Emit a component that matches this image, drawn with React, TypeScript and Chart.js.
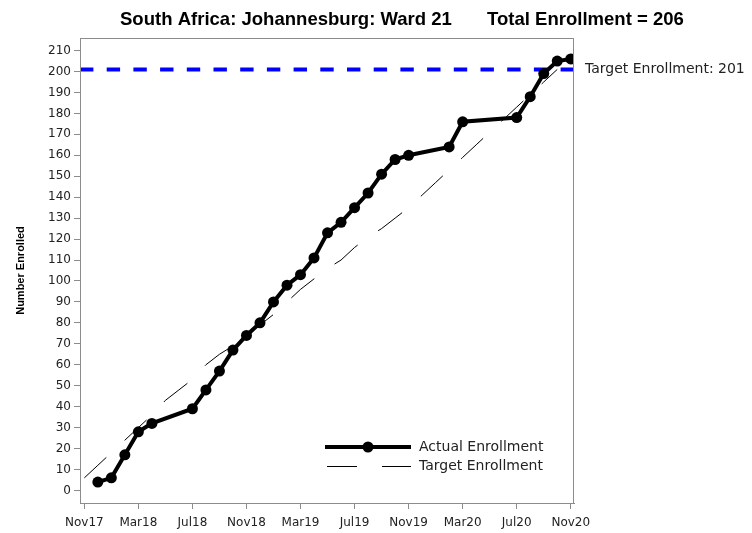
import React, { useEffect, useRef } from "react";
import { Chart, registerables } from "chart.js";

Chart.register(...registerables);

// Months counted from Nov 2017 (0 = Nov17)
const actualMonths = [1, 2, 3, 4, 5, 8, 9, 10, 11, 12, 13, 14, 15, 16, 17, 18, 19, 20, 21, 22, 23, 24, 27, 28, 32, 33, 34, 35, 36];
const actualValues = [4, 6, 17, 28, 32, 39, 48, 57, 67, 74, 80, 90, 98, 103, 111, 123, 128, 135, 142, 151, 158, 160, 164, 176, 178, 188, 199, 205, 206];

const targetMonths = [0, 1, 2, 3, 4, 5, 6, 7, 8, 9, 10, 11, 12, 13, 14, 15, 16, 17, 18, 19, 20, 21, 22, 23, 24, 25, 26, 27, 28, 29, 30, 31, 32, 33, 34, 35];
const targetValues = [6, 12, 18, 24, 30, 36, 43, 48, 53, 60, 65, 69, 74, 79, 84, 90, 96, 101, 106, 110, 116, 121, 125, 130, 135, 141, 147, 153, 159, 165, 171, 177, 183, 189, 195, 201];

const xTickMonths = [0, 4, 8, 12, 16, 20, 24, 28, 32, 36];
const xTickLabels = ["Nov17", "Mar18", "Jul18", "Nov18", "Mar19", "Jul19", "Nov19", "Mar20", "Jul20", "Nov20"];
const yTickValues = [0, 10, 20, 30, 40, 50, 60, 70, 80, 90, 100, 110, 120, 130, 140, 150, 160, 170, 180, 190, 200, 210];

const targetEnrollment = 201;
const totalEnrollment = 206;
const titleLeft = "South Africa: Johannesburg: Ward 21";
const titleRight = `Total Enrollment = ${totalEnrollment}`;

const TICK_FONT = "DejaVu Sans";
const AXIS_GRAY = "#8c8c8c";

const overlayPlugin = {
  id: "overlay",
  beforeDatasetsDraw(chart: any) {
    const { ctx, chartArea } = chart;
    const y = chart.scales.y.getPixelForValue(targetEnrollment);
    ctx.save();
    ctx.strokeStyle = "#0000ff";
    ctx.lineWidth = 4;
    ctx.setLineDash([13.4, 13.3]);
    ctx.beginPath();
    ctx.moveTo(chartArea.left, y);
    ctx.lineTo(chartArea.right, y);
    ctx.stroke();
    ctx.restore();
  },
  afterDraw(chart: any) {
    const { ctx, chartArea } = chart;
    ctx.save();
    // frame
    ctx.strokeStyle = AXIS_GRAY;
    ctx.lineWidth = 1;
    ctx.strokeRect(chartArea.left + 0.5, chartArea.top + 0.5, chartArea.right - chartArea.left - 1, chartArea.bottom - chartArea.top);

    // title, sized so its first part spans the same width as the reference
    ctx.fillStyle = "#000";
    ctx.font = "bold 15px 'Liberation Sans'";
    const w15 = ctx.measureText(titleLeft).width;
    const size = (15 * 332) / w15;
    ctx.font = `bold ${size.toFixed(2)}px 'Liberation Sans'`;
    ctx.textBaseline = "middle";
    ctx.textAlign = "left";
    ctx.fillText(titleLeft, 120, 20);
    ctx.fillText(titleRight, 487, 20);

    // target label
    const y = chart.scales.y.getPixelForValue(targetEnrollment);
    ctx.font = `14px '${TICK_FONT}'`;
    ctx.fillStyle = "#222";
    ctx.fillText(`Target Enrollment: ${targetEnrollment}`, chartArea.right + 11, y);

    // legend
    const lx0 = 325, lx1 = 411, ly1 = 447, ly2 = 466.5;
    ctx.strokeStyle = "#000";
    ctx.lineWidth = 4;
    ctx.beginPath();
    ctx.moveTo(lx0, ly1);
    ctx.lineTo(lx1, ly1);
    ctx.stroke();
    ctx.fillStyle = "#000";
    ctx.beginPath();
    ctx.arc((lx0 + lx1) / 2, ly1, 5.5, 0, Math.PI * 2);
    ctx.fill();
    ctx.lineWidth = 1;
    ctx.setLineDash([30, 25]);
    ctx.beginPath();
    ctx.moveTo(lx0 + 2, ly2);
    ctx.lineTo(lx1, ly2);
    ctx.stroke();
    ctx.setLineDash([]);
    ctx.fillStyle = "#222";
    ctx.fillText("Actual Enrollment", 419, ly1);
    ctx.fillText("Target Enrollment", 419, ly2);
    ctx.restore();
  },
};

export default function App() {
  const ref = useRef<HTMLCanvasElement | null>(null);
  useEffect(() => {
    if (!ref.current) return;
    const chart = new Chart(ref.current, {
      type: "line",
      data: {
        datasets: [
          {
            label: "Actual Enrollment",
            data: actualMonths.map((m, i) => ({ x: m, y: actualValues[i] })),
            borderColor: "#000",
            backgroundColor: "#000",
            borderWidth: 4,
            pointRadius: 5.5,
            pointBackgroundColor: "#000",
            pointBorderWidth: 0,
            tension: 0,
            order: 0,
          },
          {
            label: "Target Enrollment",
            data: targetMonths.map((m, i) => ({ x: m, y: targetValues[i] })),
            borderColor: "#000",
            borderWidth: 1,
            borderDash: [30, 25],
            pointRadius: 0,
            tension: 0,
            order: 1,
          },
        ],
      },
      options: {
        animation: false,
        responsive: true,
        maintainAspectRatio: false,
        layout: { padding: { left: 0, right: 178, top: 38, bottom: 0 } },
        plugins: { legend: { display: false }, title: { display: false }, tooltip: { enabled: false } },
        scales: {
          x: {
            type: "linear",
            min: -0.32,
            max: 36.24,
            afterBuildTicks: (s: any) => {
              s.ticks = xTickMonths.map((v) => ({ value: v }));
            },
            afterFit: (s: any) => {
              s.height = 30;
            },
            ticks: {
              autoSkip: false,
              maxRotation: 0,
              padding: 7,
              color: "#222",
              font: { family: TICK_FONT, size: 12 },
              callback: (_v: any, i: number) => xTickLabels[i],
            },
            grid: { display: true, drawOnChartArea: false, drawTicks: true, tickLength: 6, color: AXIS_GRAY },
            border: { display: true, color: AXIS_GRAY },
          },
          y: {
            type: "linear",
            min: -6,
            max: 216,
            afterBuildTicks: (s: any) => {
              s.ticks = yTickValues.map((v) => ({ value: v }));
            },
            afterFit: (s: any) => {
              s.width = 80;
            },
            ticks: {
              autoSkip: false,
              padding: 3,
              color: "#222",
              font: { family: TICK_FONT, size: 12 },
            },
            grid: { display: true, drawOnChartArea: false, drawTicks: true, tickLength: 6, color: AXIS_GRAY },
            border: { display: true, color: AXIS_GRAY },
            title: {
              display: true,
              text: "Number Enrolled",
              color: "#000",
              font: { family: "Liberation Sans", size: 11, weight: "bold" },
              padding: { top: 14, bottom: 0 },
            },
          },
        },
      },
      plugins: [overlayPlugin],
    });
    return () => chart.destroy();
  }, []);
  return (
    <div style={{ position: "fixed", left: 0, top: 0, width: 752, height: 533, background: "#fff" }}>
      <canvas ref={ref} />
    </div>
  );
}
